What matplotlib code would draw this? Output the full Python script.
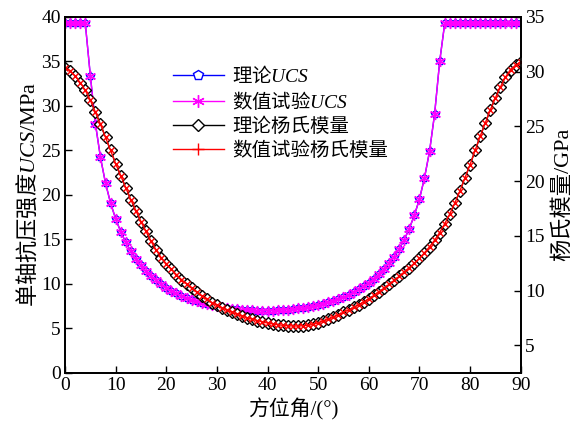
import matplotlib
matplotlib.use("Agg")
import matplotlib.pyplot as plt
from matplotlib.lines import Line2D

plt.rcParams['font.family'] = ['Liberation Serif', 'Noto Sans CJK SC']
plt.rcParams['mathtext.fontset'] = 'custom'
plt.rcParams['mathtext.it'] = 'Liberation Serif:italic'
plt.rcParams['mathtext.rm'] = 'Liberation Serif'

CJK = 'Noto Sans CJK SC'

# azimuth angle (degrees)
angle = list(range(0, 91))

# theoretical UCS (MPa)
ucs_theory = [39.3, 39.3, 39.3, 39.3, 39.3, 33.4, 28.0, 24.2, 21.3, 19.05,
              17.3, 15.85, 14.65, 13.65, 12.8, 12.05, 11.4, 10.85, 10.4, 9.95,
              9.57, 9.23, 8.93, 8.67, 8.43, 8.21, 8.02, 7.85, 7.7, 7.57,
              7.45, 7.35, 7.26, 7.18, 7.12, 7.06, 7.02, 6.99, 6.97, 6.96,
              6.97, 6.98, 7.0, 7.04, 7.08, 7.14, 7.21, 7.29, 7.38, 7.49,
              7.62, 7.76, 7.92, 8.1, 8.3, 8.52, 8.77, 9.05, 9.36, 9.72,
              10.11, 10.56, 11.07, 11.66, 12.33, 13.05, 13.9, 14.95, 16.2, 17.7,
              19.5, 21.9, 24.9, 29.1, 35.0, 39.3, 39.3, 39.3, 39.3, 39.3,
              39.3, 39.3, 39.3, 39.3, 39.3, 39.3, 39.3, 39.3, 39.3, 39.3,
              39.3]

# numerical-test UCS (MPa)
ucs_numeric = [39.3, 39.3, 39.3, 39.3, 39.3, 33.4, 28.0, 24.2, 21.3, 19.05,
               17.3, 15.85, 14.65, 13.65, 12.8, 12.05, 11.4, 10.85, 10.4, 9.95,
               9.57, 9.23, 8.93, 8.67, 8.43, 8.21, 8.02, 7.85, 7.7, 7.57,
               7.45, 7.35, 7.26, 7.18, 7.12, 7.06, 7.02, 6.99, 6.97, 6.96,
               6.97, 6.98, 7.0, 7.04, 7.08, 7.14, 7.21, 7.29, 7.38, 7.49,
               7.62, 7.76, 7.92, 8.1, 8.3, 8.52, 8.77, 9.05, 9.36, 9.72,
               10.11, 10.56, 11.07, 11.66, 12.33, 13.05, 13.9, 14.95, 16.2, 17.7,
               19.5, 21.9, 24.9, 29.1, 35.0, 39.3, 39.3, 39.3, 39.3, 39.3,
               39.3, 39.3, 39.3, 39.3, 39.3, 39.3, 39.3, 39.3, 39.3, 39.3,
               39.3]

# theoretical Young's modulus (GPa)
e_theory = [30.3, 30.1, 29.6, 29.0, 28.3, 27.4, 26.3, 25.2, 24.0, 22.8,
            21.6, 20.5, 19.4, 18.3, 17.3, 16.3, 15.4, 14.5, 13.7, 13.0,
            12.45, 11.95, 11.45, 11.0, 10.6, 10.2, 9.85, 9.5, 9.2, 8.9,
            8.65, 8.42, 8.2, 8.0, 7.82, 7.65, 7.5, 7.37, 7.25, 7.13,
            7.03, 6.95, 6.88, 6.82, 6.78, 6.76, 6.76, 6.78, 6.82, 6.9,
            7.05, 7.2, 7.38, 7.57, 7.78, 8.0, 8.22, 8.45, 8.7, 8.97,
            9.25, 9.55, 9.88, 10.22, 10.57, 10.93, 11.3, 11.7, 12.1, 12.5,
            12.95, 13.45, 14.0, 14.6, 15.3, 16.1, 17.0, 18.0, 19.1, 20.3,
            21.5, 22.8, 24.1, 25.3, 26.5, 27.6, 28.6, 29.5, 30.2, 30.6,
            30.9]

# numerical-test Young's modulus (GPa)
e_numeric = [30.3, 30.1, 29.6, 29.0, 28.3, 27.4, 26.3, 25.2, 24.0, 22.8,
             21.6, 20.5, 19.4, 18.3, 17.3, 16.3, 15.4, 14.5, 13.7, 13.0,
             12.45, 11.95, 11.45, 11.0, 10.6, 10.2, 9.85, 9.5, 9.2, 8.9,
             8.65, 8.42, 8.2, 8.0, 7.82, 7.65, 7.5, 7.37, 7.25, 7.13,
             7.03, 6.95, 6.88, 6.82, 6.78, 6.76, 6.76, 6.78, 6.82, 6.9,
             7.05, 7.2, 7.38, 7.57, 7.78, 8.0, 8.22, 8.45, 8.7, 8.97,
             9.25, 9.55, 9.88, 10.22, 10.57, 10.93, 11.3, 11.7, 12.1, 12.5,
             12.95, 13.45, 14.0, 14.6, 15.3, 16.1, 17.0, 18.0, 19.1, 20.3,
             21.5, 22.8, 24.1, 25.3, 26.5, 27.6, 28.6, 29.5, 30.2, 30.6,
             30.9]

labels = ['理论$UCS$', '数值试验$UCS$', '理论杨氏模量', '数值试验杨氏模量']

fig = plt.figure(figsize=(5.77, 4.29), dpi=100)
ax = fig.add_axes([0.1127, 0.1315, 0.7897, 0.8289])
ax2 = ax.twinx()

ax.plot(angle, ucs_theory, color='#0000ff', lw=1.0, marker='p',
        ms=6, mfc='white', mec='#0000ff', mew=1.0)
ax.plot(angle, ucs_numeric, color='#ff00ff', lw=1.0, marker=(6, 2, 0),
        ms=8, mec='#ff00ff', mew=1.0)
ax2.plot(angle, e_theory, color='black', lw=1.0, marker='D',
         ms=6, mfc='white', mec='black', mew=1.0)
ax2.plot(angle, e_numeric, color='#ff0000', lw=1.0, marker='x',
         ms=5, mec='#ff0000', mew=1.0)

ax.set_xlim(0, 90)
ax.set_ylim(0, 40)
ax2.set_ylim(2.5, 35)
ax.set_xticks(range(0, 91, 10))
ax.set_yticks(range(0, 41, 5))
ax2.set_yticks(range(5, 36, 5))

ax.tick_params(axis='both', direction='in', labelsize=14, length=5, width=1, pad=3)
ax2.tick_params(axis='y', direction='in', labelsize=14, length=5, width=1, pad=3)
for a in (ax, ax2):
    for s in a.spines.values():
        s.set_linewidth(1.3)

ax.set_xlabel('方位角/(°)', fontsize=15, labelpad=3)
ax.set_ylabel('单轴抗压强度$UCS\\mathrm{/MPa}$', fontsize=16, family=CJK, labelpad=1)
ax2.set_ylabel('杨氏模量/GPa', fontsize=16, labelpad=6)

# legend entries: the numerical Young's modulus series is keyed with a plus sign
handles = [
    Line2D([], [], color='#0000ff', lw=1.0, marker='p', ms=7, mfc='white',
           mec='#0000ff', mew=1.0),
    Line2D([], [], color='#ff00ff', lw=1.0, marker=(6, 2, 0), ms=9,
           mec='#ff00ff', mew=1.0),
    Line2D([], [], color='black', lw=1.0, marker='D', ms=6, mfc='white',
           mec='black', mew=1.0),
    Line2D([], [], color='#ff0000', lw=1.0, marker='+', ms=9,
           mec='#ff0000', mew=1.0),
]
leg = ax2.legend(handles, labels, loc='upper left',
                 bbox_to_anchor=(0.22, 0.885), frameon=False,
                 prop={'family': CJK, 'size': 14},
                 handlelength=2.6, labelspacing=0.15, borderaxespad=0,
                 handletextpad=0.45)

fig.savefig('out.png', dpi=100)
